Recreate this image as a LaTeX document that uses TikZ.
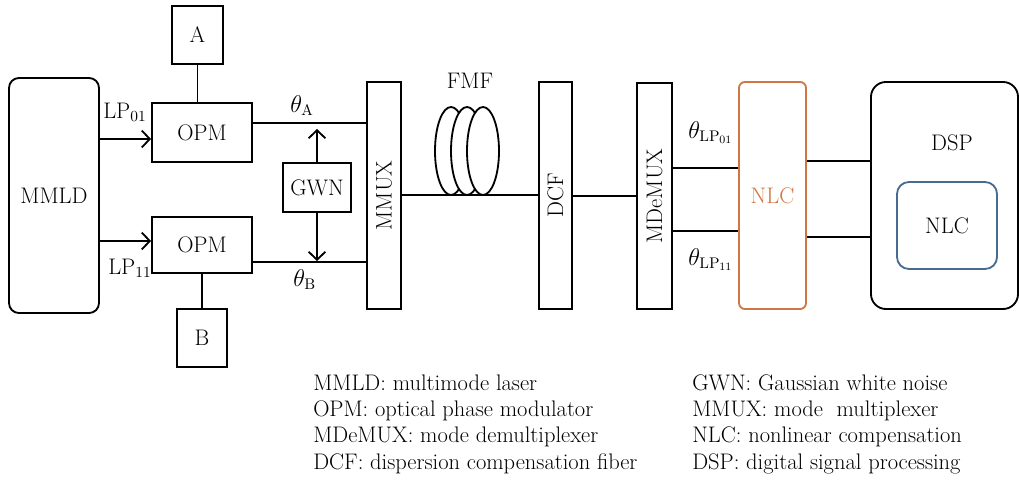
\documentclass[tikz,border=0pt]{standalone}
\usetikzlibrary{arrows.meta}
\definecolor{nlcorange}{RGB}{208,118,66}
\definecolor{nlcblue}{RGB}{72,108,145}
\tikzset{
  blk/.style={draw, line width=1.3pt, inner sep=0pt},
  conn/.style={line width=1.3pt},
  arr/.style={conn, -{Straight Barb[length=2mm,width=4.2mm,line width=1.3pt]}},
}
\begin{document}
\begin{tikzpicture}[x=0.025cm, y=-0.025cm, font=\fontsize{16}{19}\selectfont]
    \useasboundingbox (0,0) rectangle (1019,480);

    % Laser und Modulatoren
    \node[blk, rounded corners=0.25cm, minimum width=2.25cm, minimum height=5.875cm] (mmld) at (54,195.5) {MMLD};
    \node[blk, minimum width=2.5cm, minimum height=1.475cm] (opma) at (202,132.5) {OPM};
    \node[blk, minimum width=2.5cm, minimum height=1.4cm] (opmb) at (202,245) {OPM};
    \node[blk, minimum width=1.275cm, minimum height=1.45cm] (srca) at (197.5,35) {A};
    \node[blk, minimum width=1.25cm, minimum height=1.45cm] (srcb) at (202,338) {B};
    \node[blk, minimum width=1.7cm, minimum height=1.225cm] (gwn) at (317,187.5) {GWN};

    \draw[arr] (mmld.east |- 0,139) -- (opma.west |- 0,139);
    \draw[arr] (mmld.east |- 0,241) -- (opmb.west |- 0,241);
    \node[anchor=base west, inner sep=0pt] (lpa) at (103,118) {LP$_{01}$};
    \node[anchor=base west, inner sep=0pt] (lpb) at (108,274) {LP$_{11}$};
    \draw[conn] (srca.south) -- (srca.south |- opma.north);
    \draw[conn] (opmb.south) -- (srcb.north);

    % Multiplexer, Faser, DCF
    \node[blk, minimum width=0.85cm, minimum height=5.675cm] (mmux) at (384,195.5) {};
    \node[rotate=90] (mmuxtxt) at (mmux) {MMUX};
    \node[blk, minimum width=0.825cm, minimum height=5.675cm] (dcf) at (555.5,195.5) {};
    \node[rotate=90] (dcftxt) at (dcf) {DCF};
    \node[blk, minimum width=0.875cm, minimum height=5.65cm] (mdemux) at (654.5,196) {};
    \node[rotate=90] (mdemuxtxt) at (mdemux) {MDeMUX};

    \draw[conn] (opma.east |- 0,123) -- (mmux.west |- 0,123);
    \draw[conn] (opmb.east |- 0,262) -- (mmux.west |- 0,262);
    \node[anchor=base west, inner sep=0pt] (tha) at (290,112) {$\theta_{\mathrm{A}}$};
    \node[anchor=base west, inner sep=0pt] (thb) at (293,286) {$\theta_{\mathrm{B}}$};
    \draw[arr] (gwn.north) -- (gwn.north |- 0,129);
    \draw[arr] (gwn.south) -- (gwn.south |- 0,261);

    % Spule FMF
    \foreach \cx in {451,467,483}
        \draw[conn, fill=white] (\cx,151) ellipse [x radius=0.4cm, y radius=1.1cm];
    \node (fmf) at (470,81) {FMF};
    \draw[conn] (mmux.east |- 0,195) -- (dcf.west |- 0,195);
    \draw[conn] (dcf.east |- 0,196) -- (mdemux.west |- 0,196);

    % Empfaenger
    \node[blk, draw=nlcorange, text=nlcorange, rounded corners=0.15cm, minimum width=1.675cm, minimum height=5.675cm] (nlc) at (772.5,195.5) {NLC};
    \node[blk, rounded corners=0.375cm, minimum width=3.675cm, minimum height=5.675cm] (dsp) at (944.5,195.5) {};
    \node (dsptxt) at (952,143) {DSP};
    \node[blk, draw=nlcblue, rounded corners=0.3cm, minimum width=2.5cm, minimum height=2.175cm] (nlcin) at (947,225.5) {NLC};

    \draw[conn] (mdemux.east |- 0,168) -- (nlc.west |- 0,168);
    \draw[conn] (mdemux.east |- 0,231) -- (nlc.west |- 0,231);
    \node[anchor=base west, inner sep=0pt] (thlpa) at (688,138) {$\theta_{\mathrm{LP}_{01}}$};
    \node[anchor=base west, inner sep=0pt] (thlpb) at (688,265) {$\theta_{\mathrm{LP}_{11}}$};
    \draw[conn] (nlc.east |- 0,161) -- (dsp.west |- 0,161);
    \draw[conn] (nlc.east |- 0,237) -- (dsp.west |- 0,237);

    % Legende
    \node[anchor=base west, inner sep=0pt, align=left, font=\fontsize{16}{18.5}\selectfont] (legl) at (313,469) {MMLD: multimode laser\\OPM: optical phase modulator\\MDeMUX: mode demultiplexer\\DCF: dispersion compensation fiber};
    \node[anchor=base west, inner sep=0pt, align=left, font=\fontsize{16}{18.5}\selectfont] (legr) at (692,469) {GWN: Gaussian white noise\\MMUX: mode\ \ multiplexer\\NLC: nonlinear compensation\\DSP: digital signal processing};
\end{tikzpicture}
\end{document}
